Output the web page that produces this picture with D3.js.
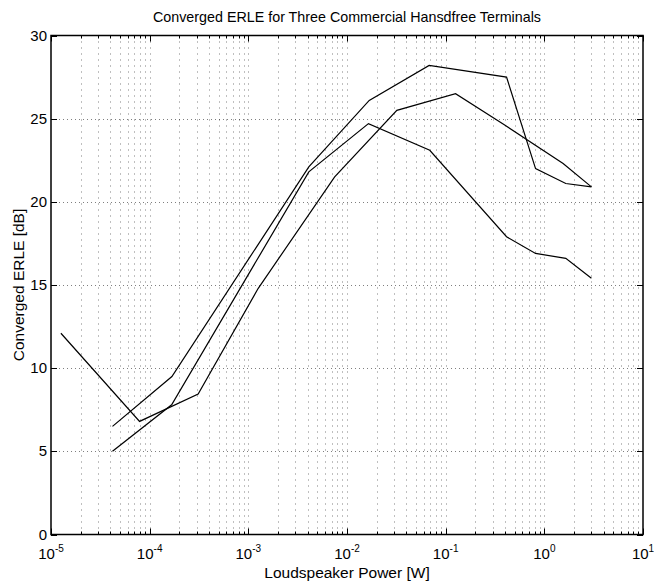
<head>
    <script src="https://d3js.org/d3.v7.min.js"></script>
    <style>
        body { margin: 0; background: white; }
        text { font-family: "Liberation Sans", Arial, sans-serif; fill: #000; }
    </style>
</head>

<body>
        <svg id="plot" height="585" width="654"></svg>
        <script>
            // data (power in W, ERLE in dB)
            const term1X = [4.2e-5, 1.68e-4, 4.1e-3, 1.68e-2, 6.8e-2, 0.414, 0.815, 1.65, 3.0];
            const term1Y = [6.5, 9.5, 22.1, 26.1, 28.2, 27.5, 22.0, 21.1, 20.9];
            const term2X = [4.2e-5, 1.67e-4, 4.1e-3, 1.65e-2, 6.9e-2, 0.414, 0.815, 1.65, 3.0];
            const term2Y = [5.0, 7.8, 21.8, 24.7, 23.1, 17.9, 16.9, 16.6, 15.4];
            const term3X = [1.26e-5, 7.9e-5, 3.1e-4, 1.26e-3, 7.5e-3, 3.2e-2, 0.126, 0.4, 1.55, 3.0];
            const term3Y = [12.1, 6.8, 8.45, 14.8, 21.5, 25.5, 26.5, 24.6, 22.3, 20.9];
            const xDecades = [-5, -4, -3, -2, -1, 0, 1];
            const yTicks = [0, 5, 10, 15, 20, 25, 30];

            const svg = d3.select("svg#plot");
            const margin = {top: 35.5, right: 11, bottom: 50.5, left: 51};
            const width = +svg.attr("width");
            const height = +svg.attr("height");

            const x = d3.scaleLog().domain([1e-5, 10]).range([margin.left, width - margin.right]);
            const y = d3.scaleLinear().domain([0, 30]).range([height - margin.bottom, margin.top]);

            const x0 = margin.left, x1 = width - margin.right;
            const y0 = height - margin.bottom, y1 = margin.top;

            //minor + major x positions
            const xMinor = [];
            xDecades.slice(0, -1).forEach(e => {
                for (let m = 2; m <= 9; m++) xMinor.push(m * Math.pow(10, e));
            });
            const xMajor = xDecades.map(e => Math.pow(10, e));

            //gridlines (dotted)
            const grid = svg.append("g").attr("class", "grid")
                .attr("stroke", "#000")
                .attr("stroke-width", 1)
                .attr("stroke-opacity", 0.5);
            xMinor.concat(xMajor.slice(1, -1)).forEach(v => {
                const px = Math.round(x(v)) + 0.5;
                grid.append("line").attr("x1", px).attr("x2", px).attr("y1", y0).attr("y2", y1)
                    .attr("stroke-dasharray", "1,5");
            });
            yTicks.slice(1, -1).forEach(v => {
                const py = Math.round(y(v)) + 0.5;
                grid.append("line").attr("x1", x0).attr("x2", x1).attr("y1", py).attr("y2", py)
                    .attr("stroke-dasharray", "1,3");
            });

            //ticks (inward, on all four sides)
            const ticks = svg.append("g").attr("stroke", "#000").attr("stroke-width", 1);
            xMajor.forEach(v => {
                const px = Math.round(x(v)) + 0.5;
                ticks.append("line").attr("x1", px).attr("x2", px).attr("y1", y0).attr("y2", y0 - 6);
                ticks.append("line").attr("x1", px).attr("x2", px).attr("y1", y1).attr("y2", y1 + 6);
            });
            xMinor.forEach(v => {
                const px = Math.round(x(v)) + 0.5;
                ticks.append("line").attr("x1", px).attr("x2", px).attr("y1", y0).attr("y2", y0 - 3);
                ticks.append("line").attr("x1", px).attr("x2", px).attr("y1", y1).attr("y2", y1 + 3);
            });
            yTicks.forEach(v => {
                const py = Math.round(y(v)) + 0.5;
                ticks.append("line").attr("x1", x0).attr("x2", x0 + 6).attr("y1", py).attr("y2", py);
                ticks.append("line").attr("x1", x1).attr("x2", x1 - 6).attr("y1", py).attr("y2", py);
            });

            //box
            svg.append("rect")
                .attr("x", x0).attr("y", y1)
                .attr("width", x1 - x0).attr("height", y0 - y1)
                .attr("fill", "none").attr("stroke", "#000").attr("stroke-width", 1.5);

            //tick labels
            yTicks.forEach(v => {
                svg.append("text")
                    .attr("x", x0 - 4)
                    .attr("y", y(v) + 5)
                    .attr("text-anchor", "end")
                    .attr("font-size", 15)
                    .text(v);
            });
            xDecades.forEach(e => {
                const t = svg.append("text")
                    .attr("x", x(Math.pow(10, e)))
                    .attr("y", y0 + 24)
                    .attr("text-anchor", "middle")
                    .attr("font-size", 15);
                t.append("tspan").text("10");
                t.append("tspan").attr("dy", -7).attr("font-size", 10).text(e);
            });

            //lines
            const line = d3.line().x(d => x(d[0])).y(d => y(d[1]));
            [[term1X, term1Y], [term2X, term2Y], [term3X, term3Y]].forEach(([xs, ys]) => {
                svg.append("path")
                    .datum(d3.zip(xs, ys))
                    .attr("d", line)
                    .attr("fill", "none")
                    .attr("stroke", "#000")
                    .attr("stroke-width", 1.2);
            });

            //titles
            svg.append("text")
                .attr("x", (x0 + x1) / 2)
                .attr("y", 22)
                .attr("text-anchor", "middle")
                .attr("font-size", 14.3)
                .text("Converged ERLE for Three Commercial Hansdfree Terminals");
            svg.append("text")
                .attr("x", (x0 + x1) / 2)
                .attr("y", 578)
                .attr("text-anchor", "middle")
                .attr("font-size", 15.5)
                .text("Loudspeaker Power [W]");
            svg.append("text")
                .attr("transform", `translate(24, ${(y0 + y1) / 2}) rotate(-90)`)
                .attr("text-anchor", "middle")
                .attr("font-size", 15.5)
                .text("Converged ERLE [dB]");
        </script>
</body>
